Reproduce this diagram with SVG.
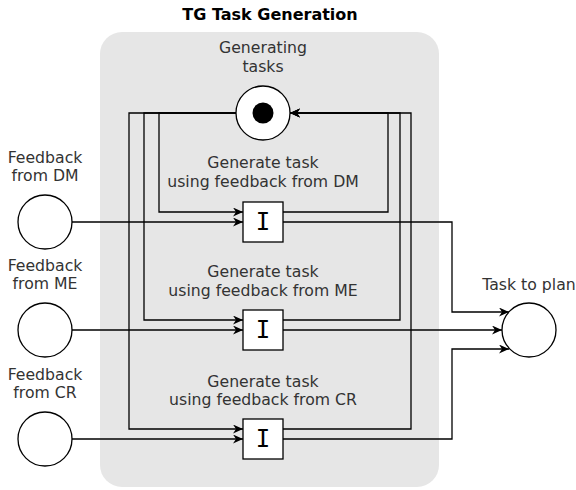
<svg xmlns="http://www.w3.org/2000/svg" width="576" height="490" viewBox="0 0 576 490">
<defs>
<style>
.lbl{font-family:"DejaVu Sans",Verdana,sans-serif;font-size:15.7px;fill:#333;text-anchor:middle}
.ttl{font-family:"DejaVu Sans",Verdana,sans-serif;font-size:16px;font-weight:bold;fill:#000;text-anchor:middle}
.place{fill:#fff;stroke:#000;stroke-width:1.3}
.trans{fill:#fff;stroke:#000;stroke-width:1.3}
.tI{font-family:"DejaVu Sans Mono","Liberation Mono",monospace;font-size:24px;fill:#000;text-anchor:middle}
.edge{fill:none;stroke:#000;stroke-width:1.3}
</style>
<marker id="arr" markerUnits="userSpaceOnUse" markerWidth="12" markerHeight="10" refX="10" refY="4.5" orient="auto" viewBox="0 0 12 10">
<path d="M0,0 L10,4.5 L0,9 L3,4.5 Z" fill="#000"/>
</marker>
</defs>
<text class="ttl" x="270" y="20">TG Task Generation</text>
<g id="container">
<rect x="100" y="32" width="339" height="455" rx="22" ry="22" fill="#e6e6e6"/>
</g>
<g id="connectors">
<path class="edge" d="M236,113 H159 V212 H243" marker-end="url(#arr)"/>
<path class="edge" d="M236,113 H144 V320 H243" marker-end="url(#arr)"/>
<path class="edge" d="M236,113 H129 V429 H243" marker-end="url(#arr)"/>
<path class="edge" d="M283,212 H388 V113 H290" marker-end="url(#arr)"/>
<path class="edge" d="M283,320 H400 V113 H290" marker-end="url(#arr)"/>
<path class="edge" d="M283,429 H411 V113 H290" marker-end="url(#arr)"/>
<path class="edge" d="M72,222 H243" marker-end="url(#arr)"/>
<path class="edge" d="M72,330 H243" marker-end="url(#arr)"/>
<path class="edge" d="M72,439 H243" marker-end="url(#arr)"/>
<path class="edge" d="M283,222 H452 V312 H509" marker-end="url(#arr)"/>
<path class="edge" d="M283,330 H502" marker-end="url(#arr)"/>
<path class="edge" d="M283,439 H452 V349 H509" marker-end="url(#arr)"/>
</g>
<g id="generating-tasks">
<text class="lbl" x="263" y="53">Generating</text>
<text class="lbl" x="263" y="72">tasks</text>
<circle class="place" cx="263" cy="113" r="27"/>
<circle cx="263" cy="113" r="10.5" fill="#000"/>
</g>
<g id="feedback-dm">
<text class="lbl" x="45" y="163">Feedback</text>
<text class="lbl" x="45" y="181">from DM</text>
<circle class="place" cx="45" cy="222" r="27"/>
</g>
<g id="feedback-me">
<text class="lbl" x="45" y="271">Feedback</text>
<text class="lbl" x="45" y="289">from ME</text>
<circle class="place" cx="45" cy="330" r="27"/>
</g>
<g id="feedback-cr">
<text class="lbl" x="45" y="380">Feedback</text>
<text class="lbl" x="45" y="398">from CR</text>
<circle class="place" cx="45" cy="439" r="27"/>
</g>
<g id="task-to-plan">
<text class="lbl" x="529" y="290">Task to plan</text>
<circle class="place" cx="529" cy="330" r="27"/>
</g>
<g id="gen-dm">
<text class="lbl" x="263" y="168">Generate task</text>
<text class="lbl" x="263" y="187">using feedback from DM</text>
<rect class="trans" x="243" y="202" width="40" height="40"/>
<text class="tI" x="263" y="230">I</text>
</g>
<g id="gen-me">
<text class="lbl" x="263" y="277">Generate task</text>
<text class="lbl" x="263" y="296">using feedback from ME</text>
<rect class="trans" x="243" y="310" width="40" height="40"/>
<text class="tI" x="263" y="338">I</text>
</g>
<g id="gen-cr">
<text class="lbl" x="263" y="387">Generate task</text>
<text class="lbl" x="263" y="405">using feedback from CR</text>
<rect class="trans" x="243" y="419" width="40" height="40"/>
<text class="tI" x="263" y="447">I</text>
</g>
</svg>
